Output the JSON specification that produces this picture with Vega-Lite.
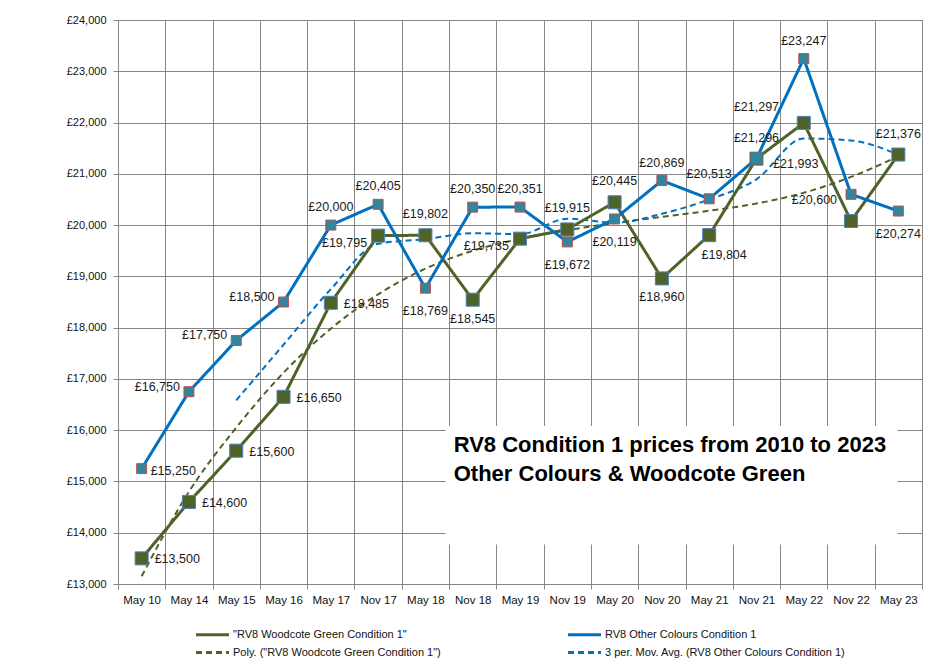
{
  "$schema": "https://vega.github.io/schema/vega-lite/v6.json",
  "width": 804,
  "height": 564,
  "autosize": {"type": "none"},
  "padding": {"left": 118, "top": 20, "right": 26, "bottom": 82},
  "background": "white",
  "config": {"view": {"stroke": "#868686"}, "font": "Liberation Sans"},
  "datasets": {
    "main": [
      {"date": "May 10", "series": "\"RV8 Woodcote Green Condition 1\"", "price": 13500},
      {"date": "May 14", "series": "\"RV8 Woodcote Green Condition 1\"", "price": 14600},
      {"date": "May 15", "series": "\"RV8 Woodcote Green Condition 1\"", "price": 15600},
      {"date": "May 16", "series": "\"RV8 Woodcote Green Condition 1\"", "price": 16650},
      {"date": "May 17", "series": "\"RV8 Woodcote Green Condition 1\"", "price": 18485},
      {"date": "Nov 17", "series": "\"RV8 Woodcote Green Condition 1\"", "price": 19795},
      {"date": "May 18", "series": "\"RV8 Woodcote Green Condition 1\"", "price": 19802},
      {"date": "Nov 18", "series": "\"RV8 Woodcote Green Condition 1\"", "price": 18545},
      {"date": "May 19", "series": "\"RV8 Woodcote Green Condition 1\"", "price": 19735},
      {"date": "Nov 19", "series": "\"RV8 Woodcote Green Condition 1\"", "price": 19915},
      {"date": "May 20", "series": "\"RV8 Woodcote Green Condition 1\"", "price": 20445},
      {"date": "Nov 20", "series": "\"RV8 Woodcote Green Condition 1\"", "price": 18960},
      {"date": "May 21", "series": "\"RV8 Woodcote Green Condition 1\"", "price": 19804},
      {"date": "Nov 21", "series": "\"RV8 Woodcote Green Condition 1\"", "price": 21296},
      {"date": "May 22", "series": "\"RV8 Woodcote Green Condition 1\"", "price": 21993},
      {"date": "Nov 22", "series": "\"RV8 Woodcote Green Condition 1\"", "price": 20080},
      {"date": "May 23", "series": "\"RV8 Woodcote Green Condition 1\"", "price": 21376},
      {"date": "May 10", "series": "RV8 Other Colours Condition 1", "price": 15250},
      {"date": "May 14", "series": "RV8 Other Colours Condition 1", "price": 16750},
      {"date": "May 15", "series": "RV8 Other Colours Condition 1", "price": 17750},
      {"date": "May 16", "series": "RV8 Other Colours Condition 1", "price": 18500},
      {"date": "May 17", "series": "RV8 Other Colours Condition 1", "price": 20000},
      {"date": "Nov 17", "series": "RV8 Other Colours Condition 1", "price": 20405},
      {"date": "May 18", "series": "RV8 Other Colours Condition 1", "price": 18769},
      {"date": "Nov 18", "series": "RV8 Other Colours Condition 1", "price": 20350},
      {"date": "May 19", "series": "RV8 Other Colours Condition 1", "price": 20351},
      {"date": "Nov 19", "series": "RV8 Other Colours Condition 1", "price": 19672},
      {"date": "May 20", "series": "RV8 Other Colours Condition 1", "price": 20119},
      {"date": "Nov 20", "series": "RV8 Other Colours Condition 1", "price": 20869},
      {"date": "May 21", "series": "RV8 Other Colours Condition 1", "price": 20513},
      {"date": "Nov 21", "series": "RV8 Other Colours Condition 1", "price": 21297},
      {"date": "May 22", "series": "RV8 Other Colours Condition 1", "price": 23247},
      {"date": "Nov 22", "series": "RV8 Other Colours Condition 1", "price": 20600},
      {"date": "May 23", "series": "RV8 Other Colours Condition 1", "price": 20274}
    ],
    "trend": [
      {"date": "May 10", "series": "Poly. (\"RV8 Woodcote Green Condition 1\")", "price": 13150},
      {"date": "May 14", "series": "Poly. (\"RV8 Woodcote Green Condition 1\")", "price": 14800},
      {"date": "May 15", "series": "Poly. (\"RV8 Woodcote Green Condition 1\")", "price": 16050},
      {"date": "May 16", "series": "Poly. (\"RV8 Woodcote Green Condition 1\")", "price": 17120},
      {"date": "May 17", "series": "Poly. (\"RV8 Woodcote Green Condition 1\")", "price": 17980},
      {"date": "Nov 17", "series": "Poly. (\"RV8 Woodcote Green Condition 1\")", "price": 18650},
      {"date": "May 18", "series": "Poly. (\"RV8 Woodcote Green Condition 1\")", "price": 19150},
      {"date": "Nov 18", "series": "Poly. (\"RV8 Woodcote Green Condition 1\")", "price": 19500},
      {"date": "May 19", "series": "Poly. (\"RV8 Woodcote Green Condition 1\")", "price": 19730},
      {"date": "Nov 19", "series": "Poly. (\"RV8 Woodcote Green Condition 1\")", "price": 19900},
      {"date": "May 20", "series": "Poly. (\"RV8 Woodcote Green Condition 1\")", "price": 20040},
      {"date": "Nov 20", "series": "Poly. (\"RV8 Woodcote Green Condition 1\")", "price": 20160},
      {"date": "May 21", "series": "Poly. (\"RV8 Woodcote Green Condition 1\")", "price": 20280},
      {"date": "Nov 21", "series": "Poly. (\"RV8 Woodcote Green Condition 1\")", "price": 20420},
      {"date": "May 22", "series": "Poly. (\"RV8 Woodcote Green Condition 1\")", "price": 20630},
      {"date": "Nov 22", "series": "Poly. (\"RV8 Woodcote Green Condition 1\")", "price": 20940},
      {"date": "May 23", "series": "Poly. (\"RV8 Woodcote Green Condition 1\")", "price": 21340},
      {"date": "May 15", "series": "3 per. Mov. Avg. (RV8 Other Colours Condition 1)", "price": 16583},
      {"date": "May 16", "series": "3 per. Mov. Avg. (RV8 Other Colours Condition 1)", "price": 17667},
      {"date": "May 17", "series": "3 per. Mov. Avg. (RV8 Other Colours Condition 1)", "price": 18750},
      {"date": "Nov 17", "series": "3 per. Mov. Avg. (RV8 Other Colours Condition 1)", "price": 19635},
      {"date": "May 18", "series": "3 per. Mov. Avg. (RV8 Other Colours Condition 1)", "price": 19725},
      {"date": "Nov 18", "series": "3 per. Mov. Avg. (RV8 Other Colours Condition 1)", "price": 19841},
      {"date": "May 19", "series": "3 per. Mov. Avg. (RV8 Other Colours Condition 1)", "price": 19823},
      {"date": "Nov 19", "series": "3 per. Mov. Avg. (RV8 Other Colours Condition 1)", "price": 20124},
      {"date": "May 20", "series": "3 per. Mov. Avg. (RV8 Other Colours Condition 1)", "price": 20047},
      {"date": "Nov 20", "series": "3 per. Mov. Avg. (RV8 Other Colours Condition 1)", "price": 20220},
      {"date": "May 21", "series": "3 per. Mov. Avg. (RV8 Other Colours Condition 1)", "price": 20500},
      {"date": "Nov 21", "series": "3 per. Mov. Avg. (RV8 Other Colours Condition 1)", "price": 20893},
      {"date": "May 22", "series": "3 per. Mov. Avg. (RV8 Other Colours Condition 1)", "price": 21690},
      {"date": "Nov 22", "series": "3 per. Mov. Avg. (RV8 Other Colours Condition 1)", "price": 21650},
      {"date": "May 23", "series": "3 per. Mov. Avg. (RV8 Other Colours Condition 1)", "price": 21374}
    ]
  },
  "layer": [
    {
      "data": {"name": "main"},
      "encoding": {
        "x": {
          "field": "date", "type": "ordinal",
          "scale": {"type": "band", "paddingInner": 0, "paddingOuter": 0,
            "domain": ["May 10","May 14","May 15","May 16","May 17","Nov 17","May 18","Nov 18","May 19","Nov 19","May 20","Nov 20","May 21","Nov 21","May 22","Nov 22","May 23"]},
          "axis": {"title": null, "tickBand": "extent", "labelAngle": 0, "grid": true, "gridColor": "#868686", "gridOpacity": 1,
            "domainColor": "#868686", "tickColor": "#868686", "tickSize": 5, "labelFontSize": 11.5, "labelColor": "#111111", "labelPadding": 5, "labelFont": "Liberation Sans"}
        },
        "y": {
          "field": "price", "type": "quantitative",
          "scale": {"domain": [13000, 24000], "nice": false, "zero": false},
          "axis": {"title": null, "values": [13000,14000,15000,16000,17000,18000,19000,20000,21000,22000,23000,24000],
            "labelExpr": "'£' + format(datum.value, ',')", "grid": true, "gridColor": "#868686", "gridOpacity": 1,
            "domainColor": "#868686", "tickColor": "#868686", "tickSize": 5, "labelPadding": 7, "labelFontSize": 11, "labelColor": "#111111", "labelFont": "Liberation Sans"}
        }
      },
      "layer": [
        {
          "data": {"name": "trend"},
          "mark": {"type": "line", "strokeWidth": 2, "interpolate": "monotone"},
          "encoding": {
            "color": {"field": "series", "type": "nominal",
              "scale": {"domain": ["\"RV8 Woodcote Green Condition 1\"", "RV8 Other Colours Condition 1", "Poly. (\"RV8 Woodcote Green Condition 1\")", "3 per. Mov. Avg. (RV8 Other Colours Condition 1)"],
                "range": ["#4F6228", "#0070C0", "#4F6228", "#0070C0"]},
              "legend": {"title": null, "orient": "none", "direction": "horizontal", "legendX": 83, "legendY": 603, "columns": 2, "columnPadding": 121,
                "symbolType": "M-1.65,0H1.65", "symbolSize": 400, "symbolStrokeWidth": 3, "labelOffset": 9, "labelFontSize": 11, "labelFont": "Liberation Sans", "labelColor": "#111111", "labelLimit": 400, "rowPadding": -2}},
            "strokeDash": {"field": "series", "type": "nominal",
              "scale": {"domain": ["\"RV8 Woodcote Green Condition 1\"", "RV8 Other Colours Condition 1", "Poly. (\"RV8 Woodcote Green Condition 1\")", "3 per. Mov. Avg. (RV8 Other Colours Condition 1)"],
                "range": [[1, 0], [1, 0], [6, 4], [6, 4]]}}
          }
        },
        {
          "mark": {"type": "line", "strokeWidth": 3},
          "encoding": {
            "color": {"field": "series", "type": "nominal"},
            "strokeDash": {"field": "series", "type": "nominal"}
          }
        },
        {
          "transform": [{"filter": {"field": "series", "equal": "\"RV8 Woodcote Green Condition 1\""}}],
          "mark": {"type": "point", "shape": "square", "filled": true, "fill": "#4F6228", "stroke": "#4F81BD", "strokeWidth": 1, "size": 170, "opacity": 1}
        },
        {
          "transform": [{"filter": {"field": "series", "equal": "RV8 Other Colours Condition 1"}}],
          "mark": {"type": "point", "shape": "square", "filled": true, "fill": "#31859C", "stroke": "#C0504D", "strokeWidth": 1, "size": 100, "opacity": 1}
        },
        {
          "transform": [{"filter": {"and": [{"field": "series", "equal": "RV8 Other Colours Condition 1"}, {"field": "date", "oneOf": ["May 10"]}]}}],
          "mark": {"type": "text", "align": "left", "baseline": "middle", "dx": 9, "dy": 2, "fontSize": 12.5, "color": "#1a1a1a", "text": {"expr": "'£' + format(datum.price, ',')"}}
        },
        {
          "transform": [{"filter": {"and": [{"field": "series", "equal": "RV8 Other Colours Condition 1"}, {"field": "date", "oneOf": ["May 14", "May 15", "May 16"]}]}}],
          "mark": {"type": "text", "align": "right", "baseline": "middle", "dx": -9, "dy": -5, "fontSize": 12.5, "color": "#1a1a1a", "text": {"expr": "'£' + format(datum.price, ',')"}}
        },
        {
          "transform": [{"filter": {"and": [{"field": "series", "equal": "RV8 Other Colours Condition 1"}, {"field": "date", "oneOf": ["May 17", "Nov 17", "Nov 18", "May 19", "Nov 20", "May 22"]}]}}],
          "mark": {"type": "text", "align": "center", "baseline": "middle", "dy": -18, "fontSize": 12.5, "color": "#1a1a1a", "text": {"expr": "'£' + format(datum.price, ',')"}}
        },
        {
          "transform": [{"filter": {"and": [{"field": "series", "equal": "RV8 Other Colours Condition 1"}, {"field": "date", "oneOf": ["May 21"]}]}}],
          "mark": {"type": "text", "align": "center", "baseline": "middle", "dy": -25, "fontSize": 12.5, "color": "#1a1a1a", "text": {"expr": "'£' + format(datum.price, ',')"}}
        },
        {
          "transform": [{"filter": {"and": [{"field": "series", "equal": "RV8 Other Colours Condition 1"}, {"field": "date", "oneOf": ["May 18", "Nov 19", "May 20", "May 23"]}]}}],
          "mark": {"type": "text", "align": "center", "baseline": "middle", "dy": 23, "fontSize": 12.5, "color": "#1a1a1a", "text": {"expr": "'£' + format(datum.price, ',')"}}
        },
        {
          "transform": [{"filter": {"and": [{"field": "series", "equal": "RV8 Other Colours Condition 1"}, {"field": "date", "oneOf": ["Nov 21"]}]}}],
          "mark": {"type": "text", "align": "center", "baseline": "middle", "dy": -52, "fontSize": 12.5, "color": "#1a1a1a", "text": {"expr": "'£' + format(datum.price, ',')"}}
        },
        {
          "transform": [{"filter": {"and": [{"field": "series", "equal": "RV8 Other Colours Condition 1"}, {"field": "date", "oneOf": ["Nov 22"]}]}}],
          "mark": {"type": "text", "align": "right", "baseline": "middle", "dx": -14, "dy": 6, "fontSize": 12.5, "color": "#1a1a1a", "text": {"expr": "'£' + format(datum.price, ',')"}}
        },
        {
          "transform": [{"filter": {"and": [{"field": "series", "equal": "\"RV8 Woodcote Green Condition 1\""}, {"field": "date", "oneOf": ["May 10", "May 14", "May 15", "May 16", "May 17"]}]}}],
          "mark": {"type": "text", "align": "left", "baseline": "middle", "dx": 13, "dy": 1, "fontSize": 12.5, "color": "#1a1a1a", "text": {"expr": "'£' + format(datum.price, ',')"}}
        },
        {
          "transform": [{"filter": {"and": [{"field": "series", "equal": "\"RV8 Woodcote Green Condition 1\""}, {"field": "date", "oneOf": ["Nov 17", "May 19"]}]}}],
          "mark": {"type": "text", "align": "right", "baseline": "middle", "dx": -11, "dy": 7, "fontSize": 12.5, "color": "#1a1a1a", "text": {"expr": "'£' + format(datum.price, ',')"}}
        },
        {
          "transform": [{"filter": {"and": [{"field": "series", "equal": "\"RV8 Woodcote Green Condition 1\""}, {"field": "date", "oneOf": ["May 18", "Nov 19", "May 20", "Nov 21", "May 23"]}]}}],
          "mark": {"type": "text", "align": "center", "baseline": "middle", "dy": -21, "fontSize": 12.5, "color": "#1a1a1a", "text": {"expr": "'£' + format(datum.price, ',')"}}
        },
        {
          "transform": [{"filter": {"and": [{"field": "series", "equal": "\"RV8 Woodcote Green Condition 1\""}, {"field": "date", "oneOf": ["Nov 18", "Nov 20"]}]}}],
          "mark": {"type": "text", "align": "center", "baseline": "middle", "dy": 19, "fontSize": 12.5, "color": "#1a1a1a", "text": {"expr": "'£' + format(datum.price, ',')"}}
        },
        {
          "transform": [{"filter": {"and": [{"field": "series", "equal": "\"RV8 Woodcote Green Condition 1\""}, {"field": "date", "oneOf": ["May 21"]}]}}],
          "mark": {"type": "text", "align": "center", "baseline": "middle", "dx": 15, "dy": 20, "fontSize": 12.5, "color": "#1a1a1a", "text": {"expr": "'£' + format(datum.price, ',')"}}
        },
        {
          "transform": [{"filter": {"and": [{"field": "series", "equal": "\"RV8 Woodcote Green Condition 1\""}, {"field": "date", "oneOf": ["May 22"]}]}}],
          "mark": {"type": "text", "align": "center", "baseline": "middle", "dx": -8, "dy": 41, "fontSize": 12.5, "color": "#1a1a1a", "text": {"expr": "'£' + format(datum.price, ',')"}}
        }
      ]
    },
    {
      "data": {"values": [{"note": 1}]},
      "mark": {"type": "rect", "fill": "white", "xOffset": -27, "x2Offset": -1},
      "encoding": {
        "x": {"datum": "Nov 18", "type": "ordinal", "title": null},
        "x2": {"datum": "May 23"},
        "y": {"datum": 16080, "type": "quantitative", "title": null},
        "y2": {"datum": 13770}
      }
    },
    {
      "data": {"values": [{"note": 1}]},
      "mark": {"type": "text", "align": "left", "baseline": "middle", "dx": -19, "fontSize": 22, "fontWeight": "bold", "font": "Liberation Sans", "color": "#000000", "text": "RV8 Condition 1 prices from 2010 to 2023"},
      "encoding": {"x": {"datum": "Nov 18", "type": "ordinal", "title": null}, "y": {"datum": 15711, "type": "quantitative", "title": null}}
    },
    {
      "data": {"values": [{"note": 1}]},
      "mark": {"type": "text", "align": "left", "baseline": "middle", "dx": -19, "fontSize": 22, "fontWeight": "bold", "font": "Liberation Sans", "color": "#000000", "text": "Other Colours & Woodcote Green"},
      "encoding": {"x": {"datum": "Nov 18", "type": "ordinal", "title": null}, "y": {"datum": 15146, "type": "quantitative", "title": null}}
    }
  ]
}
